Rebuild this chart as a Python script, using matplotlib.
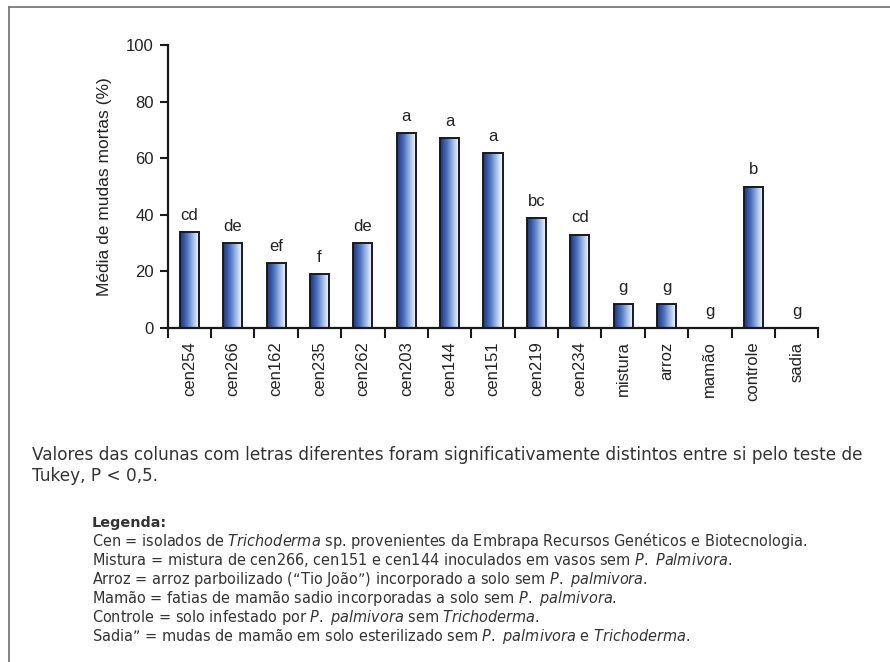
import numpy as np
import matplotlib
matplotlib.use("Agg")
import matplotlib.pyplot as plt
from matplotlib.colors import LinearSegmentedColormap
from matplotlib.lines import Line2D

# Data
categories = ["cen254", "cen266", "cen162", "cen235", "cen262", "cen203", "cen144",
              "cen151", "cen219", "cen234", "mistura", "arroz", "mamão", "controle", "sadia"]
values = [34, 30, 23, 19, 30, 69, 67, 62, 39, 33, 8.4, 8.4, 0, 50, 0]
letters = ["cd", "de", "ef", "f", "de", "a", "a", "a", "bc", "cd", "g", "g", "g", "b", "g"]
yticks = [0, 20, 40, 60, 80, 100]

plt.rcParams["font.family"] = ["Liberation Sans", "DejaVu Sans"]
plt.rcParams["mathtext.fontset"] = "dejavusans"

W, H = 890, 662
fig = plt.figure(figsize=(W / 100, H / 100), dpi=100)

# Page frame (top and left rules)
fig.add_artist(Line2D([8.5 / W, 1.0], [1 - 6.5 / H, 1 - 6.5 / H], color="#7a7a7a", lw=1.3))
fig.add_artist(Line2D([8.5 / W, 8.5 / W], [0, 1 - 6.5 / H], color="#7a7a7a", lw=1.3))

ax_l, ax_r = 167.7 / W, 818.3 / W
ax_b, ax_t = 1 - 327.7 / H, 1 - 45.3 / H
ax = fig.add_axes([ax_l, ax_b, ax_r - ax_l, ax_t - ax_b])

n = len(categories)
x = np.arange(n)
bw = 0.44
cmap = LinearSegmentedColormap.from_list(
    "barfill", [(0.0, "#1b3480"), (0.35, "#4a72be"), (0.7, "#aec5ea"), (1.0, "#ffffff")])
grad = np.linspace(0, 1, 64).reshape(1, -1)

bars = ax.bar(x, values, width=bw, facecolor="none", edgecolor="#1a1a1a", linewidth=1.4, zorder=3)
for b in bars:
    h = b.get_height()
    if h <= 0:
        continue
    x0 = b.get_x()
    ax.imshow(grad, cmap=cmap, aspect="auto", extent=(x0, x0 + b.get_width(), 0, h),
              interpolation="bilinear", zorder=2)

for xi, v, lab in zip(x, values, letters):
    ax.annotate(lab, xy=(xi, v), xytext=(0, 6.5), textcoords="offset points",
                ha="center", va="bottom", fontsize=12, color="#222222")

ax.set_xlim(-0.5, n - 0.5)
ax.set_ylim(0, 100)
ax.set_yticks(yticks)
ax.set_yticklabels([str(t) for t in yticks], fontsize=12, color="#222222")
ax.set_xticks(np.arange(n + 1) - 0.5)
ax.set_xticklabels([])
ax.set_xticks(x, minor=True)
ax.set_xticklabels(categories, minor=True, rotation=90, fontsize=12, color="#222222")
ax.tick_params(axis="x", which="major", direction="out", length=7, width=1.5, color="#1a1a1a")
ax.tick_params(axis="x", which="minor", length=0, pad=10)
ax.tick_params(axis="y", direction="out", length=6, width=1.5, color="#1a1a1a", pad=4)
for s in ["top", "right"]:
    ax.spines[s].set_visible(False)
for s in ["left", "bottom"]:
    ax.spines[s].set_linewidth(1.6)
    ax.spines[s].set_color("#1a1a1a")
ax.set_ylabel("Média de mudas mortas (%)", fontsize=12.5, color="#222222", labelpad=10)
ax.set_facecolor("none")

# Note below the chart
note_font = ["DejaVu Sans"]
fig.text(32 / W, 1 - 460 / H,
         "Valores das colunas com letras diferentes foram significativamente distintos entre si pelo teste de",
         fontsize=12.2, color="#333333", va="baseline", ha="left", family=note_font)
fig.text(32 / W, 1 - 481 / H, "Tukey, P < 0,5.", fontsize=12.2, color="#333333",
         va="baseline", ha="left", family=note_font)

# Legend block
legend_lines = [
    r"Cen = isolados de $\mathit{Trichoderma}$ sp. provenientes da Embrapa Recursos Genéticos e Biotecnologia.",
    r"Mistura = mistura de cen266, cen151 e cen144 inoculados em vasos sem $\mathit{P.}$ $\mathit{Palmivora}$.",
    r"Arroz = arroz parboilizado (“Tio João”) incorporado a solo sem $\mathit{P.}$ $\mathit{palmivora}$.",
    r"Mamão = fatias de mamão sadio incorporadas a solo sem $\mathit{P.}$ $\mathit{palmivora}$.",
    r"Controle = solo infestado por $\mathit{P.}$ $\mathit{palmivora}$ sem $\mathit{Trichoderma}$.",
    r"Sadia” = mudas de mamão em solo esterilizado sem $\mathit{P.}$ $\mathit{palmivora}$ e $\mathit{Trichoderma}$.",
]
y0 = 527
fig.text(92 / W, 1 - y0 / H, "Legenda:", fontsize=10.4, fontweight="bold", color="#333333",
         family=note_font, va="baseline", ha="left")
for i, line in enumerate(legend_lines, start=1):
    fig.text(92 / W, 1 - (y0 + 19 * i) / H, line, fontsize=10.45, color="#333333",
             family=note_font, va="baseline", ha="left")

fig.savefig("out.png", dpi=100)
